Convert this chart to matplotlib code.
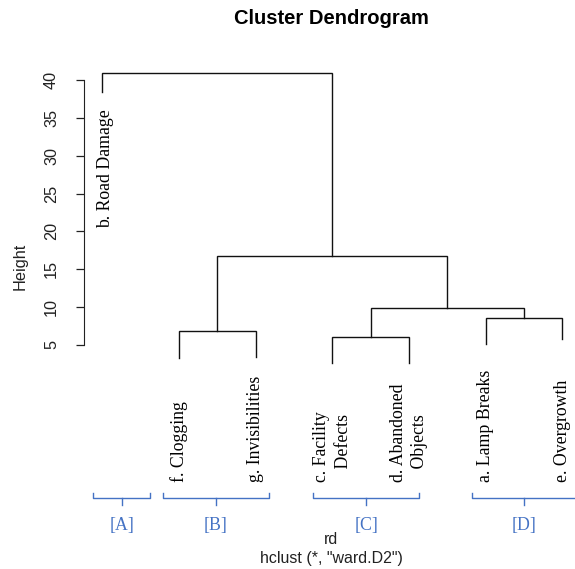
import matplotlib
matplotlib.use("Agg")
import matplotlib.pyplot as plt

# leaves, left to right as drawn
etiquetas = ["b. Road Damage", "f. Clogging", "g. Invisibilities",
             "c. Facility\n   Defects", "d. Abandoned\n   Objects",
             "a. Lamp Breaks", "e. Overgrowth"]
# where each leaf line stops (height)
fim_folha = [38.4, 3.3, 3.45, 2.6, 2.6, 5.15, 5.8]

# merges in R style: negative = leaf (1-based), positive = earlier merge
fusoes = [(-4, -5), (-2, -3), (-6, -7), (1, 3), (2, 4), (-1, 5)]
alturas = [6.05, 6.86, 8.52, 9.84, 16.77, 40.9]

# hand drawn group brackets (leaf-position units)
grupos = ["[A]", "[B]", "[C]", "[D]"]
grupo_ini = [0.88, 1.79, 3.75, 5.82]
grupo_fim = [1.62, 3.17, 5.13, 7.18]

azul = "#4472C4"
sans = "Liberation Sans"
serif = "Liberation Serif"

fig = plt.figure(figsize=(5.75, 5.69), dpi=100)
ax = fig.add_axes([84 / 575, 0, 1 - 84 / 575, 509 / 569])
ax.set_xlim(0.76, 0.76 + (575 - 84) / 76.67)
ax.set_ylim(40 - 489 / 7.571, 40 + 20 / 7.571)


# posição x e altura de cada nó
def no(ref, pos):
    if ref < 0:
        return ref * -1, fim_folha[-ref - 1]
    return pos[ref - 1]


pos = []
for (e, d), h in zip(fusoes, alturas):
    xe, ye = no(e, pos)
    xd, yd = no(d, pos)
    ax.plot([xe, xe, xd, xd], [ye, h, h, yd], color="#111111", lw=1.0,
            solid_joinstyle="miter")
    pos.append(((xe + xd) / 2, h))

# leaf labels
for i, lab in enumerate(etiquetas):
    x = i + 1
    if fim_folha[i] > 20:
        ax.text(x + 0.04, fim_folha[i] - 2.3, lab, rotation=90, ha="center",
                va="top", family=serif, fontsize=12.8, multialignment="left")
    else:
        ax.text(x, -13.1, lab, rotation=90, ha="center", va="bottom",
                family=serif, fontsize=12.8, multialignment="left",
                linespacing=1.35)

# brackets
for g, a, b in zip(grupos, grupo_ini, grupo_fim):
    c = (a + b) / 2
    ax.plot([a, a, b, b], [-14.55, -15.21, -15.21, -14.55], color=azul,
            lw=1.0, clip_on=False)
    ax.plot([c, c], [-15.21, -16.1], color=azul, lw=1.0, clip_on=False)
    ax.text(c, -18.8, g, ha="center", va="center", color=azul,
            family=serif, fontsize=12.8)

for s in ["top", "right", "bottom"]:
    ax.spines[s].set_visible(False)
ax.spines["left"].set_bounds(5, 40)
ax.spines["left"].set_color("#222222")
ax.set_xticks([])
ax.set_yticks(range(5, 41, 5))
ax.tick_params(axis="y", length=6, width=0.9, color="#222222", pad=12,
               labelsize=11.7, labelrotation=90)
for t in ax.get_yticklabels():
    t.set_family(sans)
    t.set_va("center")
    t.set_color("#222222")

fig.text(20 / 575, 1 - 266 / 569, "Height", rotation=90, ha="center",
         va="center", family=sans, fontsize=11.7, color="#222222")
fig.text(331 / 575, 1 - 19 / 569, "Cluster Dendrogram", ha="center",
         va="center", family=sans, fontsize=14.5, fontweight="bold")
fig.text(331 / 575, 1 - 540 / 569, "rd", ha="center", va="center",
         family=sans, fontsize=11.5, color="#222222")
fig.text(331 / 575, 1 - 559 / 569, 'hclust (*, "ward.D2")', ha="center",
         va="center", family=sans, fontsize=11.5, color="#222222")

fig.savefig("out.png", dpi=100)
